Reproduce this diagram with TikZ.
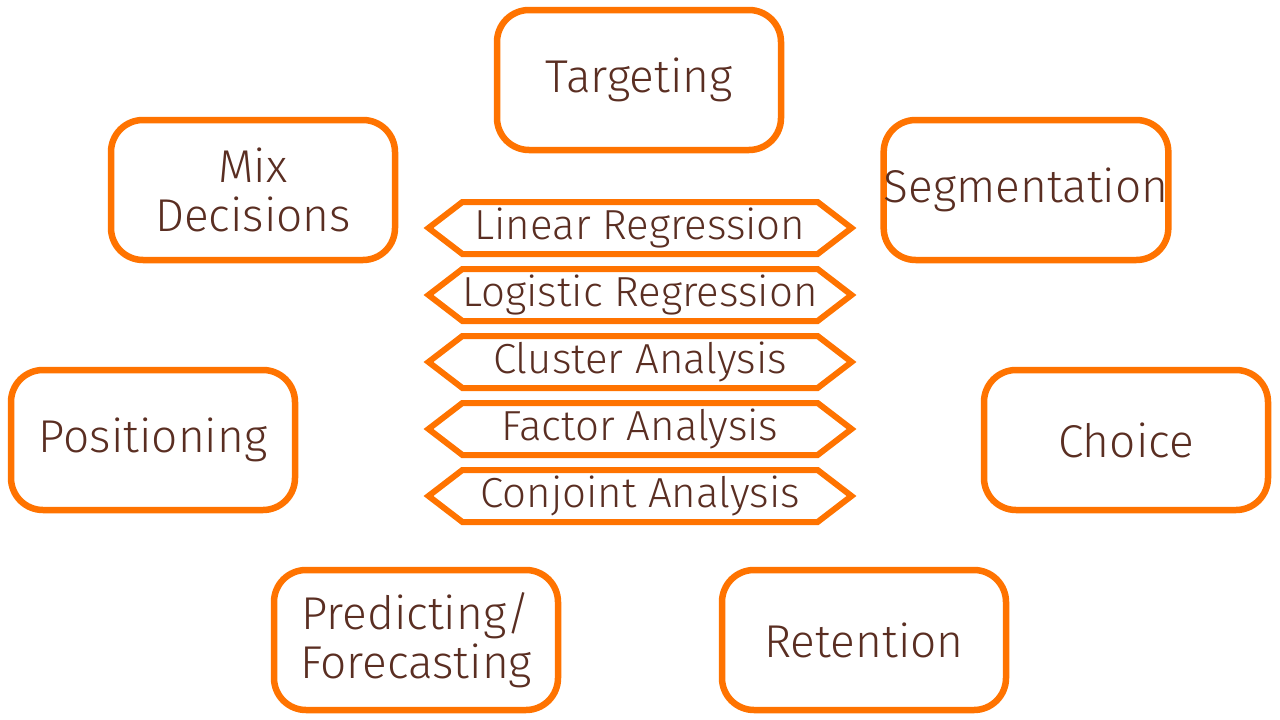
\documentclass[tikz,border=0pt]{standalone}
\usepackage{fontspec}
\setmainfont{Fira Sans}[UprightFont=* Light]
\usepackage{xcolor}
\usetikzlibrary{shapes.symbols}
\definecolor{orng}{HTML}{FF7300}
\definecolor{brwn}{HTML}{5A2E22}

\begin{document}
\begin{tikzpicture}[x=1pt,y=-1pt,
	area/.style={draw=orng, line width=6.5pt, rounded corners=32pt,
		minimum width=284pt, minimum height=140pt, text=brwn, inner xsep=0pt,
		font=\fontsize{46}{49}\selectfont, align=center},
	method/.style={signal, signal to=west and east, signal pointer angle=75,
		draw=orng, line width=6pt, minimum width=423pt, minimum height=52pt,
		text=brwn, font=\fontsize{42}{44}\selectfont, inner sep=0pt}]
	\useasboundingbox (0,0) rectangle (1280,720);
	% topics around the centre
	\node[area] (targ) at (639,80) {Targeting};
	\node[area] (mix) at (253,190) {Mix\\Decisions};
	\node[area] (segm) at (1026,190) {Segmentation};
	\node[area] (posi) at (153,440) {Positioning};
	\node[area] (choi) at (1126,440) {Choice};
	\node[area] (pred) at (416,640) {Predicting/\\Forecasting};
	\node[area] (rete) at (864,640) {Retention};
	% methods
	\foreach \n/\t [count=\i] in {lin/Linear Regression, logi/Logistic Regression,
		clus/Cluster Analysis, fact/Factor Analysis, conj/Conjoint Analysis}
		\node[method] (\n) at (640,{161+67*\i}) {\t};
\end{tikzpicture}
\end{document}
